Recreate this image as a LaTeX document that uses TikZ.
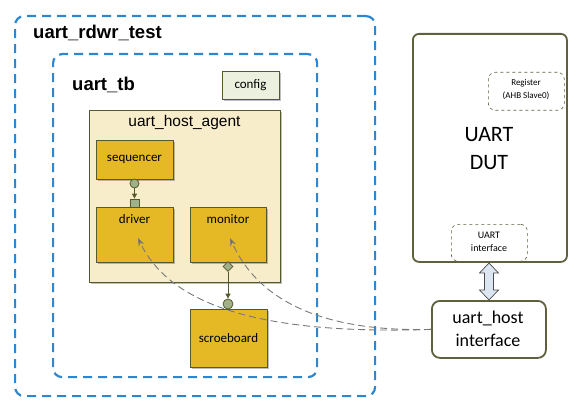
\documentclass[tikz,border=0pt]{standalone}
\usepackage{fontspec}
\setmainfont{Carlito}
\newfontfamily\arialf{Liberation Sans}
\usetikzlibrary{arrows.meta,shapes.geometric,shadows}
\definecolor{tblue}{RGB}{46,134,206}
\definecolor{olv}{RGB}{84,90,44}
\definecolor{gold}{RGB}{229,185,38}
\definecolor{cream}{RGB}{248,237,203}
\definecolor{cfg}{RGB}{235,241,222}
\definecolor{portc}{RGB}{160,176,136}
\definecolor{dutc}{RGB}{94,96,62}
\definecolor{arrfill}{RGB}{220,230,242}
\definecolor{lnk}{RGB}{120,120,120}
\begin{document}
\begin{tikzpicture}[x=1pt,y=-1pt,
  envbox/.style={draw=tblue, line width=2.2pt, dash pattern=on 9pt off 6pt, rounded corners=9pt, anchor=north west, inner sep=0},
  shad/.style={drop shadow={shadow xshift=1.5pt, shadow yshift=-1.5pt, opacity=0.25, fill=black}},
  comp/.style={draw=olv, line width=1.4pt, fill=gold, anchor=north west, inner sep=0, shad},
  agentbox/.style={draw=olv, line width=1.2pt, fill=cream, anchor=north west, inner sep=0, shad},
  cfgbox/.style={draw=olv, line width=1.4pt, fill=cfg, anchor=north west, inner sep=0, shad},
  dutbox/.style={draw=dutc, line width=1.8pt, fill=white, rounded corners=6pt, anchor=north west, inner sep=0},
  subbox/.style={draw=dutc, line width=0.6pt, dashed, rounded corners=7pt, anchor=north west, inner sep=0},
  portcirc/.style={circle, draw=olv, line width=0.8pt, fill=portc, inner sep=0, minimum size=#1},
  link/.style={draw=lnk, line width=0.9pt, dash pattern=on 7pt off 4pt, -{Stealth[length=8pt,width=6pt,fill=black!65]}},
  tlm/.style={draw=olv, line width=1pt, -{Triangle[length=5pt,width=5pt]}},
  txt/.style={inner sep=0, font=\fontsize{13}{15}\selectfont}
]
\useasboundingbox (0,0) rectangle (576,409);

% environment boxes
\node[envbox, minimum width=360pt, minimum height=380pt] (test) at (14,15) {};
\node[anchor=west, inner sep=0, font=\arialf\bfseries\fontsize{18.5}{20}\selectfont] (testlbl) at (33,33) {uart\_rdwr\_test};
\node[envbox, minimum width=264pt, minimum height=323pt] (tb) at (52,53) {};
\node[anchor=west, inner sep=0, font=\arialf\bfseries\fontsize{18.5}{20}\selectfont] (tblbl) at (72,85) {uart\_tb};

% config
\node[cfgbox, minimum width=57pt, minimum height=28pt] (cfg) at (222,71) {};
\node[txt] (cfgt) at (250.5,85) {config};

% agent
\node[agentbox, minimum width=191pt, minimum height=172pt] (agent) at (89,110) {};
\node[inner sep=0, font=\arialf\fontsize{15.5}{17}\selectfont] (agentt) at (184.5,122) {uart\_host\_agent};

\node[comp, minimum width=77pt, minimum height=39pt] (seq) at (96,140) {};
\node[txt] (seqt) at (134.5,159.5) {sequencer};
\node[comp, minimum width=77pt, minimum height=55pt] (drv) at (96,207) {};
\node[txt] (drvt) at (134.5,219) {driver};
\node[comp, minimum width=76pt, minimum height=55pt] (mon) at (190,207) {};
\node[txt] (mont) at (228,219) {monitor};
\node[comp, minimum width=77pt, minimum height=58pt] (scb) at (190,309) {};
\node[txt] (scbt) at (228.5,338) {scroeboard};

% TLM ports
\node[portcirc=9pt] (seqport) at (134.5,183.5) {};
\node[draw=olv, line width=0.8pt, fill=portc, minimum width=9pt, minimum height=8pt, inner sep=0] (drvport) at (134.5,203) {};
\draw[tlm] (seqport) -- (drvport);
\node[diamond, draw=olv, line width=0.8pt, fill=portc, inner sep=0, minimum width=10pt, minimum height=10pt] (monport) at (228,266.5) {};
\node[portcirc=10pt] (scbport) at (228,304) {};
\draw[tlm] (monport) -- (scbport);

% DUT
\node[dutbox, minimum width=154pt, minimum height=228pt] (dut) at (412,33) {};
\node[inner sep=0, align=center, font=\fontsize{22}{28}\selectfont] (dutt) at (489,149) {UART\\DUT};
\node[subbox, minimum width=76pt, minimum height=38pt] (reg) at (488,72) {};
\node[inner sep=0, align=center, font=\fontsize{9}{13}\selectfont] (regt) at (526,90) {Register\\(AHB Slave0)};
\node[subbox, minimum width=76pt, minimum height=37pt] (uif) at (451,224) {};
\node[inner sep=0, align=center, font=\fontsize{10}{13}\selectfont] (uift) at (489,241.5) {UART\\interface};

% host interface
\node[draw=dutc, line width=1.8pt, fill=white, rounded corners=8pt, anchor=north west, minimum width=114pt, minimum height=57pt, inner sep=0] (hif) at (431,300) {};
\node[inner sep=0, align=center, font=\fontsize{18}{23}\selectfont] (hift) at (488,328.5) {uart\_host\\interface};

% double hollow arrow
\coordinate (da) at (489,263);
\coordinate (db) at (489,300);
\draw[black!70, line width=0.7pt, fill=arrfill, line join=miter]
  (da) -- ++(9.5,10) -- ++(-5,0) -- ++(0,17) -- ++(5,0) -- (db) -- ++(-9.5,-10) -- ++(5,0) -- ++(0,-17) -- ++(-5,0) -- cycle;

% virtual interface links
\coordinate (hifin) at (hif.west);
\coordinate (drvtip) at (138,238);
\coordinate (montip) at (230,238);
\draw[link] (hifin) .. controls (260,335) and (170,305) .. (drvtip);
\draw[link] (hifin) .. controls (330,332) and (260,305) .. (montip);
\end{tikzpicture}
\end{document}
